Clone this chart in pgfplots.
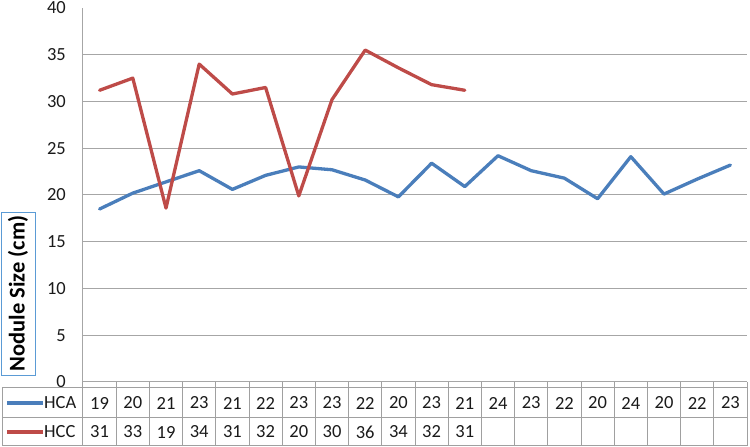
\documentclass[border=0pt]{standalone}
\usepackage{pgfplots}
\pgfplotsset{compat=1.18}
\usepackage{fontspec}
\setmainfont{Carlito}
\usetikzlibrary{calc}
\definecolor{hca}{HTML}{4A7EBB}
\definecolor{hcc}{HTML}{BE4B48}
\definecolor{gridc}{HTML}{A6A6A6}
\definecolor{tabc}{HTML}{A0A0A0}
\definecolor{txt}{HTML}{1A1A1A}
\definecolor{boxc}{HTML}{5B9BD5}
\newcommand{\tf}{\fontsize{18.5}{20}\selectfont}
\begin{document}
\begin{tikzpicture}
\begin{axis}[
  scale only axis, width=664pt, height=374pt,
  xmin=0.5, xmax=20.5, ymin=0, ymax=40,
  axis x line*=bottom, axis y line*=left,
  axis line style={draw=gridc, line width=1pt, -},
  xtick=\empty,
  ytick={0,5,...,40},
  major tick length=0pt,
  extra y ticks={5,10,...,35},
  extra y tick labels={},
  extra y tick style={grid=major, major tick length=0pt},
  major grid style={draw=gridc, line width=1pt},
  yticklabel style={font=\tf, text=txt, anchor=east, inner sep=0pt, xshift=-17pt},
  /pgf/number format/assume math mode=true,
  clip=false,
]
\addplot[hca, line width=3.3pt, line join=round, line cap=round] coordinates {
 (1,18.5) (2,20.2) (3,21.4) (4,22.6) (5,20.6) (6,22.1) (7,23.0) (8,22.7) (9,21.6) (10,19.8)
 (11,23.4) (12,20.9) (13,24.2) (14,22.6) (15,21.8) (16,19.6) (17,24.1) (18,20.1) (19,21.7) (20,23.2)};
\addplot[hcc, line width=3.3pt, line join=round, line cap=round] coordinates {
 (1,31.2) (2,32.5) (3,18.6) (4,34.0) (5,30.8) (6,31.5) (7,19.9) (8,30.2) (9,35.5) (10,33.6)
 (11,31.8) (12,31.2)};
\coordinate (L) at (axis cs:0.5,0);
\end{axis}
\begin{scope}[shift={($(L)+(-83pt,382pt)$)}, x=1pt, y=-1pt]
  \path (0,0) rectangle (750,447);
  % y label
  \node[draw=boxc, line width=0.8pt, rotate=90, font=\bfseries\fontsize{22.5}{26}\selectfont, text=black,
        minimum width=163pt, minimum height=34pt, inner sep=0pt] at (18,293.5) {Nodule Size (cm)};
  % table
  \foreach \k in {0,...,20} {
    \draw[tabc, line width=1pt] ({83+\k*33.2},382) -- ({83+\k*33.2},388);
  }
  \foreach \k in {0,...,19} {
    \draw[tabc, line width=1pt] ({83+\k*33.2},388) -- ({83+\k*33.2},446);
  }
  \draw[tabc, line width=1pt] (3,388) rectangle (747,446);
  \draw[tabc, line width=1pt] (3,418) -- (747,418);
  \draw[hca, line width=3.3pt] (7,403) -- (43,403);
  \draw[hcc, line width=3.3pt] (7,432) -- (43,432);
  \node[font=\tf, text=txt, anchor=west, inner sep=0pt] at (44,403) {HCA};
  \node[font=\tf, text=txt, anchor=west, inner sep=0pt] at (44,432) {HCC};
  \foreach \i/\v in {1/19,2/20,3/21,4/23,5/21,6/22,7/23,8/23,9/22,10/20,11/23,12/21,13/24,14/23,15/22,16/20,17/24,18/20,19/22,20/23} {
    \node[font=\tf, text=txt, inner sep=0pt] at ({83+(\i-0.5)*33.2},403) {\v};
  }
  \foreach \i/\v in {1/31,2/33,3/19,4/34,5/31,6/32,7/20,8/30,9/36,10/34,11/32,12/31} {
    \node[font=\tf, text=txt, inner sep=0pt] at ({83+(\i-0.5)*33.2},432) {\v};
  }
\end{scope}
\end{tikzpicture}
\end{document}
